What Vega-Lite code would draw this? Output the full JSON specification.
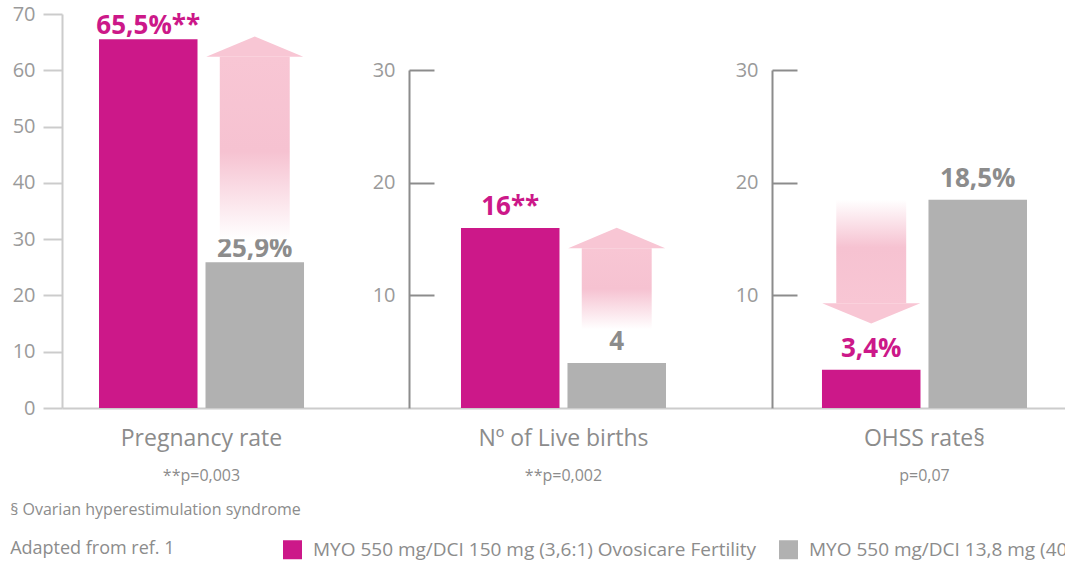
{
  "$schema": "https://vega.github.io/schema/vega-lite/v6.json",
  "padding": {"left": 10, "top": 4, "right": 0, "bottom": 0},
  "background": "white",
  "spacing": 0,
  "bounds": "flush",
  "config": {
    "view": {"stroke": null},
    "font": "Open Sans",
    "axis": {"grid": false, "labelFlush": false, "labelOverlap": false},
    "title": {"font": "Open Sans"}
  },
  "title": {
    "text": "§ Ovarian hyperestimulation syndrome",
    "subtitle": "Adapted from ref. 1",
    "orient": "bottom",
    "anchor": "start",
    "frame": "bounds",
    "fontSize": 16,
    "fontWeight": "normal",
    "color": "#8c8c8c",
    "subtitleFontSize": 18,
    "subtitleColor": "#8c8c8c",
    "subtitlePadding": 22,
    "offset": -58,
    "dx": -2
  },
  "datasets": {
    "bars": [
      {"panel": "Pregnancy rate", "series": "MYO 550 mg/DCI 150 mg (3,6:1) Ovosicare Fertility", "value": 65.5, "label": "65,5%**"},
      {"panel": "Pregnancy rate", "series": "MYO 550 mg/DCI 13,8 mg (40:1)", "value": 25.9, "label": "25,9%"},
      {"panel": "Nº of Live births", "series": "MYO 550 mg/DCI 150 mg (3,6:1) Ovosicare Fertility", "value": 16, "label": "16**"},
      {"panel": "Nº of Live births", "series": "MYO 550 mg/DCI 13,8 mg (40:1)", "value": 4, "label": "4"},
      {"panel": "OHSS rate§", "series": "MYO 550 mg/DCI 150 mg (3,6:1) Ovosicare Fertility", "value": 3.4, "label": "3,4%"},
      {"panel": "OHSS rate§", "series": "MYO 550 mg/DCI 13,8 mg (40:1)", "value": 18.5, "label": "18,5%"}
    ],
    "arrows": [
      {"panel": "Pregnancy rate", "series": "MYO 550 mg/DCI 13,8 mg (40:1)", "tail": 30, "base": 62.4},
      {"panel": "Nº of Live births", "series": "MYO 550 mg/DCI 13,8 mg (40:1)", "tail": 7, "base": 14.2},
      {"panel": "OHSS rate§", "series": "MYO 550 mg/DCI 150 mg (3,6:1) Ovosicare Fertility", "tail": 18.5, "base": 9.3}
    ],
    "pvals": [
      {"panel": "Pregnancy rate", "p": "**p=0,003"},
      {"panel": "Nº of Live births", "p": "**p=0,002"},
      {"panel": "OHSS rate§", "p": "p=0,07"}
    ]
  },
  "hconcat": [
    {
      "width": 347,
      "height": 394,
      "resolve": {"scale": {"x": "independent"}, "axis": {"x": "independent"}},
      "layer": [
        {
          "layer": [
            {
              "data": {"name": "bars"},
              "transform": [{"filter": "datum.panel === 'Pregnancy rate'"}],
              "mark": {"type": "bar"},
              "encoding": {
                "x": {"field": "panel", "type": "nominal", "title": null,
                      "scale": {"paddingInner": 0, "paddingOuter": 0.3463, "align": 0.2606},
                      "axis": {"domainColor": "#cccccc", "domainWidth": 2, "ticks": false, "labelAngle": 0, "labelFontSize": 23, "labelColor": "#8c8c8c", "labelPadding": 19}},
                "xOffset": {"field": "series", "type": "nominal",
                      "scale": {"domain": ["MYO 550 mg/DCI 150 mg (3,6:1) Ovosicare Fertility", "MYO 550 mg/DCI 13,8 mg (40:1)"], "paddingInner": 0.075, "paddingOuter": 0}},
                "y": {"field": "value", "type": "quantitative", "title": null,
                      "scale": {"domain": [0, 70], "nice": false},
                      "axis": {"values": [0, 10, 20, 30, 40, 50, 60, 70], "domainColor": "#cccccc", "domainWidth": 2, "tickColor": "#cccccc", "tickWidth": 2, "tickSize": 19, "labelFontSize": 20, "labelColor": "#9a9a9a", "labelPadding": 8}},
                "color": {"field": "series", "type": "nominal",
                      "scale": {"domain": ["MYO 550 mg/DCI 150 mg (3,6:1) Ovosicare Fertility", "MYO 550 mg/DCI 13,8 mg (40:1)"], "range": ["#cc1889", "#b1b1b1"]},
                      "legend": {"orient": "none", "direction": "horizontal", "legendX": 221, "legendY": 526, "title": null, "symbolType": "square", "symbolSize": 361, "symbolStrokeWidth": 0, "symbolOpacity": 1, "labelFontSize": 19, "labelColor": "#8c8c8c", "labelOffset": 11, "columnPadding": 22, "labelLimit": 1000}}
              }
            },
            {
              "data": {"name": "bars"},
              "transform": [{"filter": "datum.panel === 'Pregnancy rate'"}],
              "mark": {"type": "text", "fontSize": 26, "fontWeight": "bold", "dy": -5, "baseline": "alphabetic"},
              "encoding": {
                "x": {"field": "panel", "type": "nominal", "title": null},
                "xOffset": {"field": "series", "type": "nominal"},
                "y": {"field": "value", "type": "quantitative", "title": null},
                "text": {"field": "label"},
                "color": {"condition": {"test": "datum.series === 'MYO 550 mg/DCI 150 mg (3,6:1) Ovosicare Fertility'", "value": "#cc1889"}, "value": "#8c8c8c"}
              }
            },
            {
              "data": {"name": "pvals"},
              "transform": [{"filter": "datum.panel === 'Pregnancy rate'"}],
              "mark": {"type": "text", "fontSize": 16, "color": "#8c8c8c"},
              "encoding": {
                "x": {"field": "panel", "type": "nominal", "title": null},
                "y": {"datum": -12, "type": "quantitative", "title": null},
                "text": {"field": "p"}
              }
            }
          ]
        },
        {
          "data": {"name": "arrows"},
          "transform": [{"filter": "datum.panel === 'Pregnancy rate'"}],
          "encoding": {
            "x": {"field": "series", "type": "nominal", "title": null,
                  "scale": {"domain": ["MYO 550 mg/DCI 150 mg (3,6:1) Ovosicare Fertility", "MYO 550 mg/DCI 13,8 mg (40:1)"], "paddingInner": 0.075, "paddingOuter": 0.6666, "align": 0.2606},
                  "axis": null}
          },
          "layer": [
            {
              "mark": {"type": "bar", "width": {"band": 0.71},
                       "color": {"gradient": "linear", "x1": 0, "y1": 0, "x2": 0, "y2": 1,
                                 "stops": [{"offset": 0, "color": "#f8c6d4"}, {"offset": 0.52, "color": "#f6c2d1"}, {"offset": 1, "color": "#ffffff"}]}},
              "encoding": {
                "y": {"field": "base", "type": "quantitative", "title": null, "scale": {"domain": [0, 70], "nice": false}},
                "y2": {"field": "tail"}
              }
            },
            {
              "mark": {"type": "point", "shape": "M-1,0L0,-0.42L1,0Z", "size": 9409, "filled": true, "opacity": 1, "color": "#f8c6d4"},
              "encoding": {
                "y": {"field": "base", "type": "quantitative", "title": null}
              }
            }
          ]
        }
      ]
    },
    {
      "width": 363,
      "height": 394,
      "resolve": {"scale": {"x": "independent"}, "axis": {"x": "independent"}},
      "layer": [
        {
          "layer": [
            {
              "data": {"name": "bars"},
              "transform": [{"filter": "datum.panel === 'Nº of Live births'"}],
              "mark": {"type": "bar"},
              "encoding": {
                "x": {"field": "panel", "type": "nominal", "title": null,
                      "scale": {"paddingInner": 0, "paddingOuter": 0.3854, "align": 0.329},
                      "axis": {"domainColor": "#cccccc", "domainWidth": 2, "ticks": false, "labelAngle": 0, "labelFontSize": 23, "labelColor": "#8c8c8c", "labelPadding": 19}},
                "xOffset": {"field": "series", "type": "nominal",
                      "scale": {"domain": ["MYO 550 mg/DCI 150 mg (3,6:1) Ovosicare Fertility", "MYO 550 mg/DCI 13,8 mg (40:1)"], "paddingInner": 0.075, "paddingOuter": 0}},
                "y": {"field": "value", "type": "quantitative", "title": null,
                      "scale": {"domain": [0, 35], "nice": false},
                      "axis": {"values": [10, 20, 30], "domainColor": "#8c8c8c", "domainWidth": 2, "domainDash": [338, 1000], "tickColor": "#8c8c8c", "tickWidth": 2, "tickSize": -25, "labelFontSize": 20, "labelColor": "#9a9a9a", "labelPadding": 39}},
                "color": {"field": "series", "type": "nominal"}
              }
            },
            {
              "data": {"name": "bars"},
              "transform": [{"filter": "datum.panel === 'Nº of Live births'"}],
              "mark": {"type": "text", "fontSize": 26, "fontWeight": "bold", "dy": -13, "baseline": "alphabetic"},
              "encoding": {
                "x": {"field": "panel", "type": "nominal", "title": null},
                "xOffset": {"field": "series", "type": "nominal"},
                "y": {"field": "value", "type": "quantitative", "title": null},
                "text": {"field": "label"},
                "color": {"condition": {"test": "datum.series === 'MYO 550 mg/DCI 150 mg (3,6:1) Ovosicare Fertility'", "value": "#cc1889"}, "value": "#8c8c8c"}
              }
            },
            {
              "data": {"name": "pvals"},
              "transform": [{"filter": "datum.panel === 'Nº of Live births'"}],
              "mark": {"type": "text", "fontSize": 16, "color": "#8c8c8c"},
              "encoding": {
                "x": {"field": "panel", "type": "nominal", "title": null},
                "y": {"datum": -6, "type": "quantitative", "title": null},
                "text": {"field": "p"}
              }
            }
          ]
        },
        {
          "data": {"name": "arrows"},
          "transform": [{"filter": "datum.panel === 'Nº of Live births'"}],
          "encoding": {
            "x": {"field": "series", "type": "nominal", "title": null,
                  "scale": {"domain": ["MYO 550 mg/DCI 150 mg (3,6:1) Ovosicare Fertility", "MYO 550 mg/DCI 13,8 mg (40:1)"], "paddingInner": 0.075, "paddingOuter": 0.7418, "align": 0.329},
                  "axis": null}
          },
          "layer": [
            {
              "mark": {"type": "bar", "width": {"band": 0.71},
                       "color": {"gradient": "linear", "x1": 0, "y1": 0, "x2": 0, "y2": 1,
                                 "stops": [{"offset": 0, "color": "#f8c6d4"}, {"offset": 0.5, "color": "#f6c2d1"}, {"offset": 1, "color": "#ffffff"}]}},
              "encoding": {
                "y": {"field": "base", "type": "quantitative", "title": null, "scale": {"domain": [0, 35], "nice": false}},
                "y2": {"field": "tail"}
              }
            },
            {
              "mark": {"type": "point", "shape": "M-1,0L0,-0.42L1,0Z", "size": 9409, "filled": true, "opacity": 1, "color": "#f8c6d4"},
              "encoding": {
                "y": {"field": "base", "type": "quantitative", "title": null}
              }
            }
          ]
        }
      ]
    },
    {
      "width": 293,
      "height": 394,
      "resolve": {"scale": {"x": "independent"}, "axis": {"x": "independent"}},
      "layer": [
        {
          "layer": [
            {
              "data": {"name": "bars"},
              "transform": [{"filter": "datum.panel === 'OHSS rate§'"}],
              "mark": {"type": "bar"},
              "encoding": {
                "x": {"field": "panel", "type": "nominal", "title": null,
                      "scale": {"paddingInner": 0, "paddingOuter": 0.2146, "align": 0.568},
                      "axis": {"domainColor": "#cccccc", "domainWidth": 2, "ticks": false, "labelAngle": 0, "labelFontSize": 23, "labelColor": "#8c8c8c", "labelPadding": 19}},
                "xOffset": {"field": "series", "type": "nominal",
                      "scale": {"domain": ["MYO 550 mg/DCI 150 mg (3,6:1) Ovosicare Fertility", "MYO 550 mg/DCI 13,8 mg (40:1)"], "paddingInner": 0.075, "paddingOuter": 0}},
                "y": {"field": "value", "type": "quantitative", "title": null,
                      "scale": {"domain": [0, 35], "nice": false},
                      "axis": {"values": [10, 20, 30], "domainColor": "#8c8c8c", "domainWidth": 2, "domainDash": [338, 1000], "tickColor": "#8c8c8c", "tickWidth": 2, "tickSize": -25, "labelFontSize": 20, "labelColor": "#9a9a9a", "labelPadding": 39}},
                "color": {"field": "series", "type": "nominal"}
              }
            },
            {
              "data": {"name": "bars"},
              "transform": [{"filter": "datum.panel === 'OHSS rate§'"}],
              "mark": {"type": "text", "fontSize": 26, "fontWeight": "bold", "dy": -13, "baseline": "alphabetic"},
              "encoding": {
                "x": {"field": "panel", "type": "nominal", "title": null},
                "xOffset": {"field": "series", "type": "nominal"},
                "y": {"field": "value", "type": "quantitative", "title": null},
                "text": {"field": "label"},
                "color": {"condition": {"test": "datum.series === 'MYO 550 mg/DCI 150 mg (3,6:1) Ovosicare Fertility'", "value": "#cc1889"}, "value": "#8c8c8c"}
              }
            },
            {
              "data": {"name": "pvals"},
              "transform": [{"filter": "datum.panel === 'OHSS rate§'"}],
              "mark": {"type": "text", "fontSize": 16, "color": "#8c8c8c"},
              "encoding": {
                "x": {"field": "panel", "type": "nominal", "title": null},
                "y": {"datum": -6, "type": "quantitative", "title": null},
                "text": {"field": "p"}
              }
            }
          ]
        },
        {
          "data": {"name": "arrows"},
          "transform": [{"filter": "datum.panel === 'OHSS rate§'"}],
          "encoding": {
            "x": {"field": "series", "type": "nominal", "title": null,
                  "scale": {"domain": ["MYO 550 mg/DCI 150 mg (3,6:1) Ovosicare Fertility", "MYO 550 mg/DCI 13,8 mg (40:1)"], "paddingInner": 0.075, "paddingOuter": 0.4131, "align": 0.568},
                  "axis": null}
          },
          "layer": [
            {
              "mark": {"type": "bar", "width": {"band": 0.71},
                       "color": {"gradient": "linear", "x1": 0, "y1": 0, "x2": 0, "y2": 1,
                                 "stops": [{"offset": 0, "color": "#ffffff"}, {"offset": 0.46, "color": "#f6c2d1"}, {"offset": 1, "color": "#f8c6d4"}]}},
              "encoding": {
                "y": {"field": "tail", "type": "quantitative", "title": null, "scale": {"domain": [0, 35], "nice": false}},
                "y2": {"field": "base"}
              }
            },
            {
              "mark": {"type": "point", "shape": "M-1,0L0,0.41L1,0Z", "size": 9604, "filled": true, "opacity": 1, "color": "#f8c6d4"},
              "encoding": {
                "y": {"field": "base", "type": "quantitative", "title": null}
              }
            }
          ]
        }
      ]
    }
  ]
}
